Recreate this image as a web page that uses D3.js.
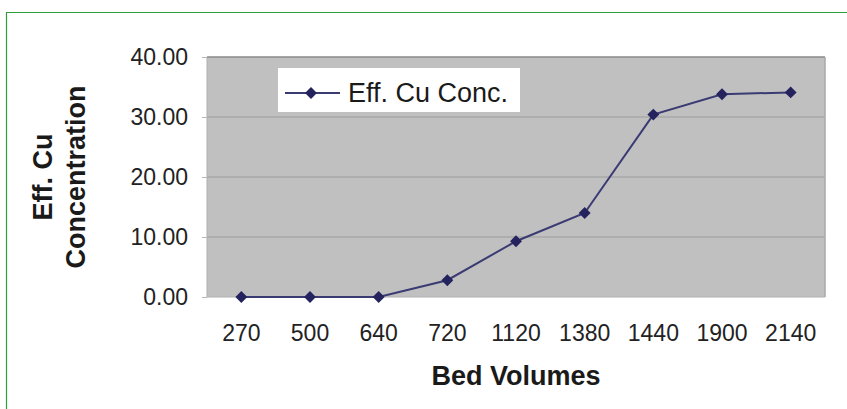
<!DOCTYPE html>
<html>
<head>
<meta charset="utf-8">
<script src="https://cdn.jsdelivr.net/npm/d3@7"></script>
<style>
  html, body { margin: 0; padding: 0; background: #fff; overflow: hidden; }
  svg { display: block; }
  text { font-family: "Liberation Sans", Arial, Helvetica, sans-serif; }
</style>
</head>
<body>
<svg id="chart" width="847" height="409"></svg>
<script>
// Effluent copper concentration versus bed volumes treated
const bedVolumes = ["270", "500", "640", "720", "1120", "1380", "1440", "1900", "2140"];
const effCu = [0, 0, 0, 2.8, 9.3, 14.0, 30.4, 33.8, 34.1];
const yTicks = [0, 10, 20, 30, 40];
const seriesName = "Eff. Cu Conc.";

const svg = d3.select("#chart");
const plot = { left: 207, right: 825, top: 57, bottom: 297 };

// outer green frame (open to the right and bottom)
svg.append("path")
  .attr("d", "M6.5,409 L6.5,12.5 L847,12.5")
  .attr("fill", "none").attr("stroke", "#2f9e3a").attr("stroke-width", 1.2);

const x = d3.scaleBand().domain(bedVolumes).range([plot.left, plot.right]).padding(0);
const y = d3.scaleLinear().domain([0, 40]).range([plot.bottom, plot.top]);

// plot area
svg.append("rect")
  .attr("x", plot.left).attr("y", plot.top)
  .attr("width", plot.right - plot.left).attr("height", plot.bottom - plot.top)
  .attr("fill", "#c0c0c0");

// horizontal gridlines
svg.append("g").selectAll("line").data(yTicks.filter(d => d > 0 && d < 40)).join("line")
  .attr("x1", plot.left).attr("x2", plot.right)
  .attr("y1", d => y(d)).attr("y2", d => y(d))
  .attr("stroke", "#a8a8a8").attr("stroke-width", 1.5);

// plot border
svg.append("line").attr("x1", plot.left).attr("x2", plot.right)
  .attr("y1", plot.top).attr("y2", plot.top).attr("stroke", "#8a8a8a").attr("stroke-width", 1.5);
svg.append("line").attr("x1", plot.right).attr("x2", plot.right)
  .attr("y1", plot.top).attr("y2", plot.bottom).attr("stroke", "#a8a8a8").attr("stroke-width", 1.5);
svg.append("line").attr("x1", plot.left).attr("x2", plot.left)
  .attr("y1", plot.top).attr("y2", plot.bottom).attr("stroke", "#b0b0b0").attr("stroke-width", 1);
svg.append("line").attr("x1", plot.left).attr("x2", plot.right)
  .attr("y1", plot.bottom).attr("y2", plot.bottom).attr("stroke", "#b0b0b0").attr("stroke-width", 1);

// y axis
const yAxis = d3.axisLeft(y).tickValues(yTicks).tickFormat(d3.format(".2f")).tickSize(5).tickPadding(14);
const gy = svg.append("g").attr("transform", `translate(${plot.left},0)`).call(yAxis);
gy.select(".domain").remove();
gy.selectAll(".tick line").attr("stroke", "#b8b8b8");
gy.selectAll(".tick text")
  .attr("font-size", 23).attr("fill", "#222")
  .attr("font-family", "'Liberation Sans', Arial, sans-serif");

// x axis
const xAxis = d3.axisBottom(x).tickSize(0).tickPadding(28);
const gx = svg.append("g").attr("transform", `translate(0,${plot.bottom})`).call(xAxis);
gx.select(".domain").remove();
gx.selectAll(".tick text")
  .attr("font-size", 23).attr("fill", "#222")
  .attr("font-family", "'Liberation Sans', Arial, sans-serif");

// axis titles
svg.append("text")
  .attr("x", (plot.left + plot.right) / 2).attr("y", 385)
  .attr("text-anchor", "middle")
  .attr("font-size", 27).attr("font-weight", "bold").attr("fill", "#1a1a1a")
  .text("Bed Volumes");

const yTitle = svg.append("text")
  .attr("transform", `translate(0,${(plot.top + plot.bottom) / 2}) rotate(-90)`)
  .attr("text-anchor", "middle")
  .attr("font-size", 27).attr("font-weight", "bold").attr("fill", "#1a1a1a");
yTitle.append("tspan").attr("x", 0).attr("y", 52).text("Eff. Cu");
yTitle.append("tspan").attr("x", 0).attr("y", 85).text("Concentration");

// series line
const cx = d => x(d) + x.bandwidth() / 2;
const line = d3.line().x((d, i) => cx(bedVolumes[i])).y(d => y(d));
svg.append("path")
  .datum(effCu)
  .attr("d", line)
  .attr("fill", "none").attr("stroke", "#3b3b74").attr("stroke-width", 2);

// markers
const diamond = d3.symbol().type(d3.symbolDiamond2).size(90);
svg.append("g").selectAll("path").data(effCu).join("path")
  .attr("transform", (d, i) => `translate(${cx(bedVolumes[i])},${y(d)})`)
  .attr("d", diamond)
  .attr("fill", "#24235e");

// legend
const lg = svg.append("g");
lg.append("rect")
  .attr("x", 278).attr("y", 68).attr("width", 242).attr("height", 44)
  .attr("fill", "#ffffff");
lg.append("line")
  .attr("x1", 285).attr("x2", 340).attr("y1", 93).attr("y2", 93)
  .attr("stroke", "#3b3b74").attr("stroke-width", 2);
lg.append("path")
  .attr("transform", "translate(311,93)")
  .attr("d", diamond)
  .attr("fill", "#24235e");
lg.append("text")
  .attr("x", 348).attr("y", 102)
  .attr("font-size", 27).attr("fill", "#1a1a1a")
  .text(seriesName);
</script>
</body>
</html>
